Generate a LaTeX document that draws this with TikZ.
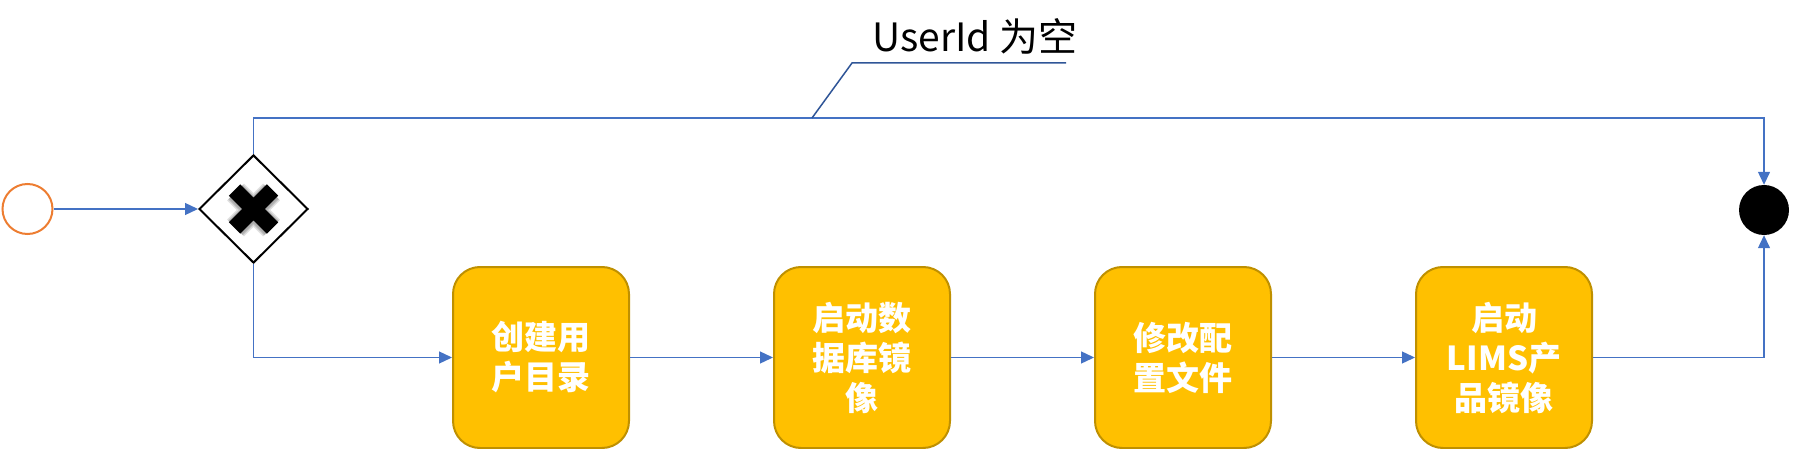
\documentclass[tikz,border=0pt]{standalone}
\usepackage{fontspec}
\setmainfont{Noto Sans CJK SC}
\usetikzlibrary{arrows.meta,shapes.geometric}
\definecolor{flowblue}{HTML}{4472C4}
\definecolor{labblue}{HTML}{2F5597}
\definecolor{startor}{HTML}{ED7D31}
\definecolor{taskfill}{HTML}{FFC000}
\definecolor{taskdraw}{HTML}{BF9000}
\tikzset{
  flow/.style={draw=flowblue, line width=1.3pt, -{Triangle[length=13pt,width=12pt]}},
  labline/.style={draw=labblue, line width=1.5pt},
  startev/.style={circle, draw=startor, line width=2pt, minimum size=50pt, inner sep=0pt},
  endev/.style={circle, fill=black, minimum size=50pt, inner sep=0pt},
  gw/.style={diamond, draw=black, line width=2pt, minimum width=109pt, minimum height=108pt, inner sep=0pt, fill=white},
  xshadow/.style={line width=#1, black, opacity=0.12},
  task/.style={rectangle, rounded corners=27pt, draw=taskdraw, line width=2pt, fill=taskfill,
    minimum width=176pt, minimum height=181pt, inner sep=0pt, align=center, text=white,
    font=\bfseries\fontsize{33}{40}\selectfont},
  lbltext/.style={font=\fontsize{39}{44}\selectfont, anchor=west, inner sep=0pt}
}
\begin{document}
\begin{tikzpicture}[x=1pt,y=-1pt]
\path[use as bounding box] (0,0) rectangle (1793,449);
\node[startev] (start) at (27.5,209) {};
\node[gw] (gw) at (253.5,209) {};
\foreach \w in {24,21,19} {
\draw[xshadow=\w pt] ([shift={(-18,-17)}]gw.center) -- ([shift={(18,19)}]gw.center)
  ([shift={(18,-17)}]gw.center) -- ([shift={(-18,19)}]gw.center);
}
\draw[line width=16pt, black] ([shift={(-19,-19)}]gw.center) -- ([shift={(19,19)}]gw.center)
  ([shift={(19,-19)}]gw.center) -- ([shift={(-19,19)}]gw.center);
\node[task] (t1) at (541,357.5) {创建用\\户目录};
\node[task] (t2) at (862,357.5) {启动数\\据库镜\\像};
\node[task] (t3) at (1183,357.5) {修改配\\置文件};
\node[task] (t4) at (1504,357.5) {启动\\LIMS产\\品镜像};
\node[endev] (end) at (1764,210) {};
\coordinate (top) at (253.5,118);
\draw[flow] (start) -- (gw);
\draw[flow] (gw.north) -- (top) -| (end.north);
\draw[flow] (gw.south) |- (t1.west);
\draw[flow] (t1) -- (t2);
\draw[flow] (t2) -- (t3);
\draw[flow] (t3) -- (t4);
\draw[flow] (t4.east) -| (end.south);
\coordinate (la) at (812,118);
\coordinate (lb) at (852,63);
\coordinate (lc) at (1066,63);
\draw[labline] (la) -- (lb) -- (lc);
\node[lbltext] (lbl) at (872,36) {UserId 为空};
\end{tikzpicture}
\end{document}
